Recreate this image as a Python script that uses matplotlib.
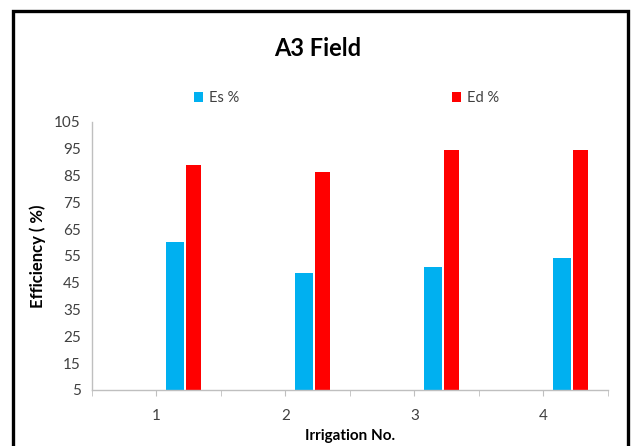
import numpy as np
import matplotlib
matplotlib.use("Agg")
import matplotlib.pyplot as plt
from matplotlib.patches import Rectangle

plt.rcParams["font.family"] = ["Lato", "DejaVu Sans"]

irrigation = ["1", "2", "3", "4"]
es_pct = [60.3, 48.7, 51.0, 54.2]
ed_pct = [88.9, 86.3, 94.5, 94.5]
y_ticks = [5, 15, 25, 35, 45, 55, 65, 75, 85, 95, 105]

BLUE, RED, AXC = "#00b0f0", "#ff0000", "#bfbfbf"

fig = plt.figure(figsize=(6.31, 4.46), dpi=100)
ax = fig.add_axes([0.1458, 0.1256, 0.8177, 0.6015])

x = np.arange(1, len(irrigation) + 1)
ax.bar(x + 0.075, np.array(es_pct) - 5, 0.142, bottom=5, align="edge",
       color=BLUE, label="Es %")
ax.bar(x + 0.232, np.array(ed_pct) - 5, 0.115, bottom=5, align="edge",
       color=RED, label="Ed %")

ax.set_xlim(0.5, 4.5)
ax.set_ylim(5, 105)
ax.set_yticks(y_ticks)
ax.set_xticks(x)
ax.set_xticklabels(irrigation)
ax.set_xticks(np.arange(0.5, 4.6, 1.0), minor=True)
ax.tick_params(axis="x", which="both", length=4, color=AXC, direction="out")
ax.tick_params(axis="x", which="major", pad=10, labelsize=11, labelcolor="#404040")
ax.tick_params(axis="y", length=0, pad=8, labelsize=11, labelcolor="#404040")

for s in ("top", "right"):
    ax.spines[s].set_visible(False)
for s in ("left", "bottom"):
    ax.spines[s].set_color(AXC)
    ax.spines[s].set_linewidth(1.0)

ax.set_ylabel("Efficiency ( %)", fontsize=12, fontweight="bold", labelpad=6)
ax.set_xlabel("Irrigation No.", fontsize=11, fontweight="bold", labelpad=4)

fig.text(0.504, 0.892, "A3 Field", ha="center", va="center", fontsize=17, fontweight="bold")
fig.legend(loc="center left", bbox_to_anchor=(0.287, 0.78), ncol=2, frameon=False,
           fontsize=10.5, handlelength=0.6, handleheight=0.6, handletextpad=0.4,
           columnspacing=14.6, labelcolor="#404040")

fig.patches.append(Rectangle((13 / 631, -0.05), 615 / 631, 1 - 11 / 446 + 0.05,
                             transform=fig.transFigure, fill=False, ec="black", lw=2.4))

fig.savefig("out.png", dpi=100)
